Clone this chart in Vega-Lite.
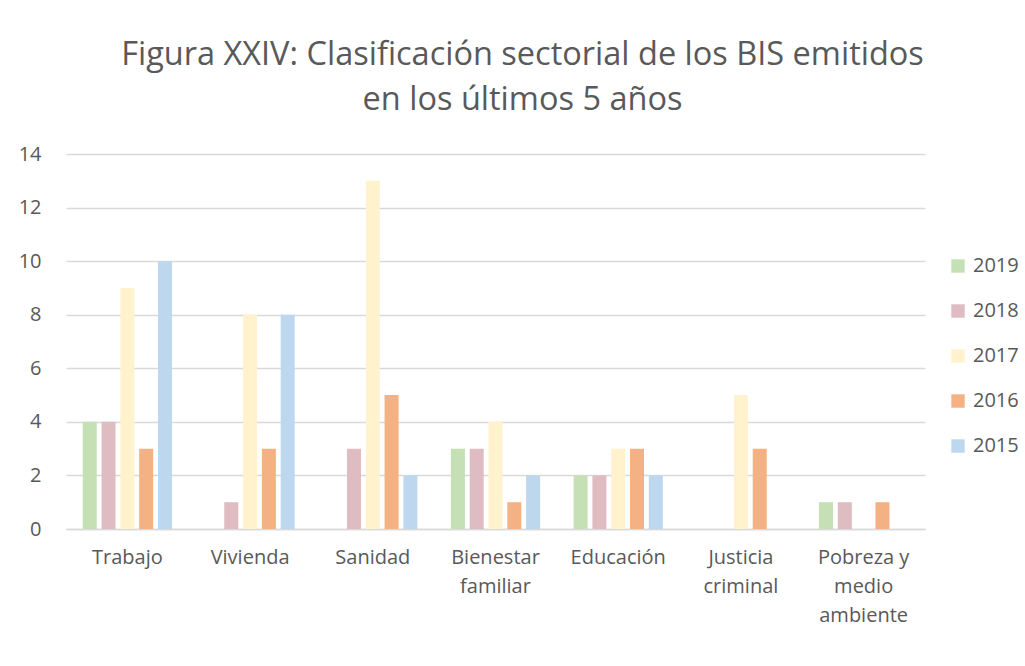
{
  "$schema": "https://vega.github.io/schema/vega-lite/v6.json",
  "autosize": "none",
  "width": 859,
  "height": 375,
  "padding": {"left": 66, "top": 154, "right": 100, "bottom": 137},
  "background": "white",
  "title": {
    "text": ["Figura XXIV: Clasificación sectorial de los BIS emitidos", "en los últimos 5 años"],
    "font": "Open Sans",
    "fontSize": 32.5,
    "fontWeight": "normal",
    "color": "#595959",
    "anchor": "middle",
    "frame": "group",
    "dx": 27,
    "offset": 28,
    "lineHeight": 45
  },
  "data": {
    "values": [
      {"sector": "Trabajo", "year": "2019", "value": 4},
      {"sector": "Trabajo", "year": "2018", "value": 4},
      {"sector": "Trabajo", "year": "2017", "value": 9},
      {"sector": "Trabajo", "year": "2016", "value": 3},
      {"sector": "Trabajo", "year": "2015", "value": 10},
      {"sector": "Vivienda", "year": "2019", "value": 0},
      {"sector": "Vivienda", "year": "2018", "value": 1},
      {"sector": "Vivienda", "year": "2017", "value": 8},
      {"sector": "Vivienda", "year": "2016", "value": 3},
      {"sector": "Vivienda", "year": "2015", "value": 8},
      {"sector": "Sanidad", "year": "2019", "value": 0},
      {"sector": "Sanidad", "year": "2018", "value": 3},
      {"sector": "Sanidad", "year": "2017", "value": 13},
      {"sector": "Sanidad", "year": "2016", "value": 5},
      {"sector": "Sanidad", "year": "2015", "value": 2},
      {"sector": "Bienestar|familiar", "year": "2019", "value": 3},
      {"sector": "Bienestar|familiar", "year": "2018", "value": 3},
      {"sector": "Bienestar|familiar", "year": "2017", "value": 4},
      {"sector": "Bienestar|familiar", "year": "2016", "value": 1},
      {"sector": "Bienestar|familiar", "year": "2015", "value": 2},
      {"sector": "Educación", "year": "2019", "value": 2},
      {"sector": "Educación", "year": "2018", "value": 2},
      {"sector": "Educación", "year": "2017", "value": 3},
      {"sector": "Educación", "year": "2016", "value": 3},
      {"sector": "Educación", "year": "2015", "value": 2},
      {"sector": "Justicia|criminal", "year": "2019", "value": 0},
      {"sector": "Justicia|criminal", "year": "2018", "value": 0},
      {"sector": "Justicia|criminal", "year": "2017", "value": 5},
      {"sector": "Justicia|criminal", "year": "2016", "value": 3},
      {"sector": "Justicia|criminal", "year": "2015", "value": 0},
      {"sector": "Pobreza y|medio|ambiente", "year": "2019", "value": 1},
      {"sector": "Pobreza y|medio|ambiente", "year": "2018", "value": 1},
      {"sector": "Pobreza y|medio|ambiente", "year": "2017", "value": 0},
      {"sector": "Pobreza y|medio|ambiente", "year": "2016", "value": 1},
      {"sector": "Pobreza y|medio|ambiente", "year": "2015", "value": 0}
    ]
  },
  "mark": {"type": "bar"},
  "encoding": {
    "x": {
      "field": "sector",
      "type": "nominal",
      "sort": null,
      "scale": {"paddingInner": 0, "paddingOuter": 0},
      "axis": {
        "title": null,
        "labelAngle": 0,
        "labelExpr": "split(datum.label, '|')",
        "labelFont": "Open Sans",
        "labelFontSize": 20,
        "labelColor": "#595959",
        "labelLineHeight": 29,
        "labelPadding": 28,
        "labelBaseline": "middle",
        "ticks": false,
        "domainColor": "#d9d9d9",
        "domainWidth": 1.5
      }
    },
    "xOffset": {
      "field": "year",
      "type": "nominal",
      "sort": ["2019", "2018", "2017", "2016", "2015"],
      "scale": {"paddingInner": 0.255, "paddingOuter": 0.89}
    },
    "y": {
      "field": "value",
      "type": "quantitative",
      "scale": {"domain": [0, 14]},
      "axis": {
        "title": null,
        "values": [0, 2, 4, 6, 8, 10, 12, 14],
        "labelFont": "Open Sans",
        "labelFontSize": 20,
        "labelColor": "#595959",
        "labelPadding": 25,
        "ticks": false,
        "domain": false,
        "gridColor": "#d9d9d9",
        "gridWidth": 1.5
      }
    },
    "color": {
      "field": "year",
      "type": "nominal",
      "sort": ["2019", "2018", "2017", "2016", "2015"],
      "scale": {
        "domain": ["2019", "2018", "2017", "2016", "2015"],
        "range": ["#c5e0b4", "#dfbcc1", "#fff2cc", "#f4b183", "#bdd7ee"]
      },
      "legend": {
        "title": null,
        "orient": "none",
        "legendX": 882,
        "legendY": 102,
        "symbolType": "square",
        "symbolSize": 180,
        "symbolStrokeWidth": 0,
        "labelFont": "Open Sans",
        "labelFontSize": 20,
        "labelColor": "#595959",
        "labelOffset": 5,
        "rowPadding": 25
      }
    }
  },
  "config": {"view": {"stroke": null}}
}
